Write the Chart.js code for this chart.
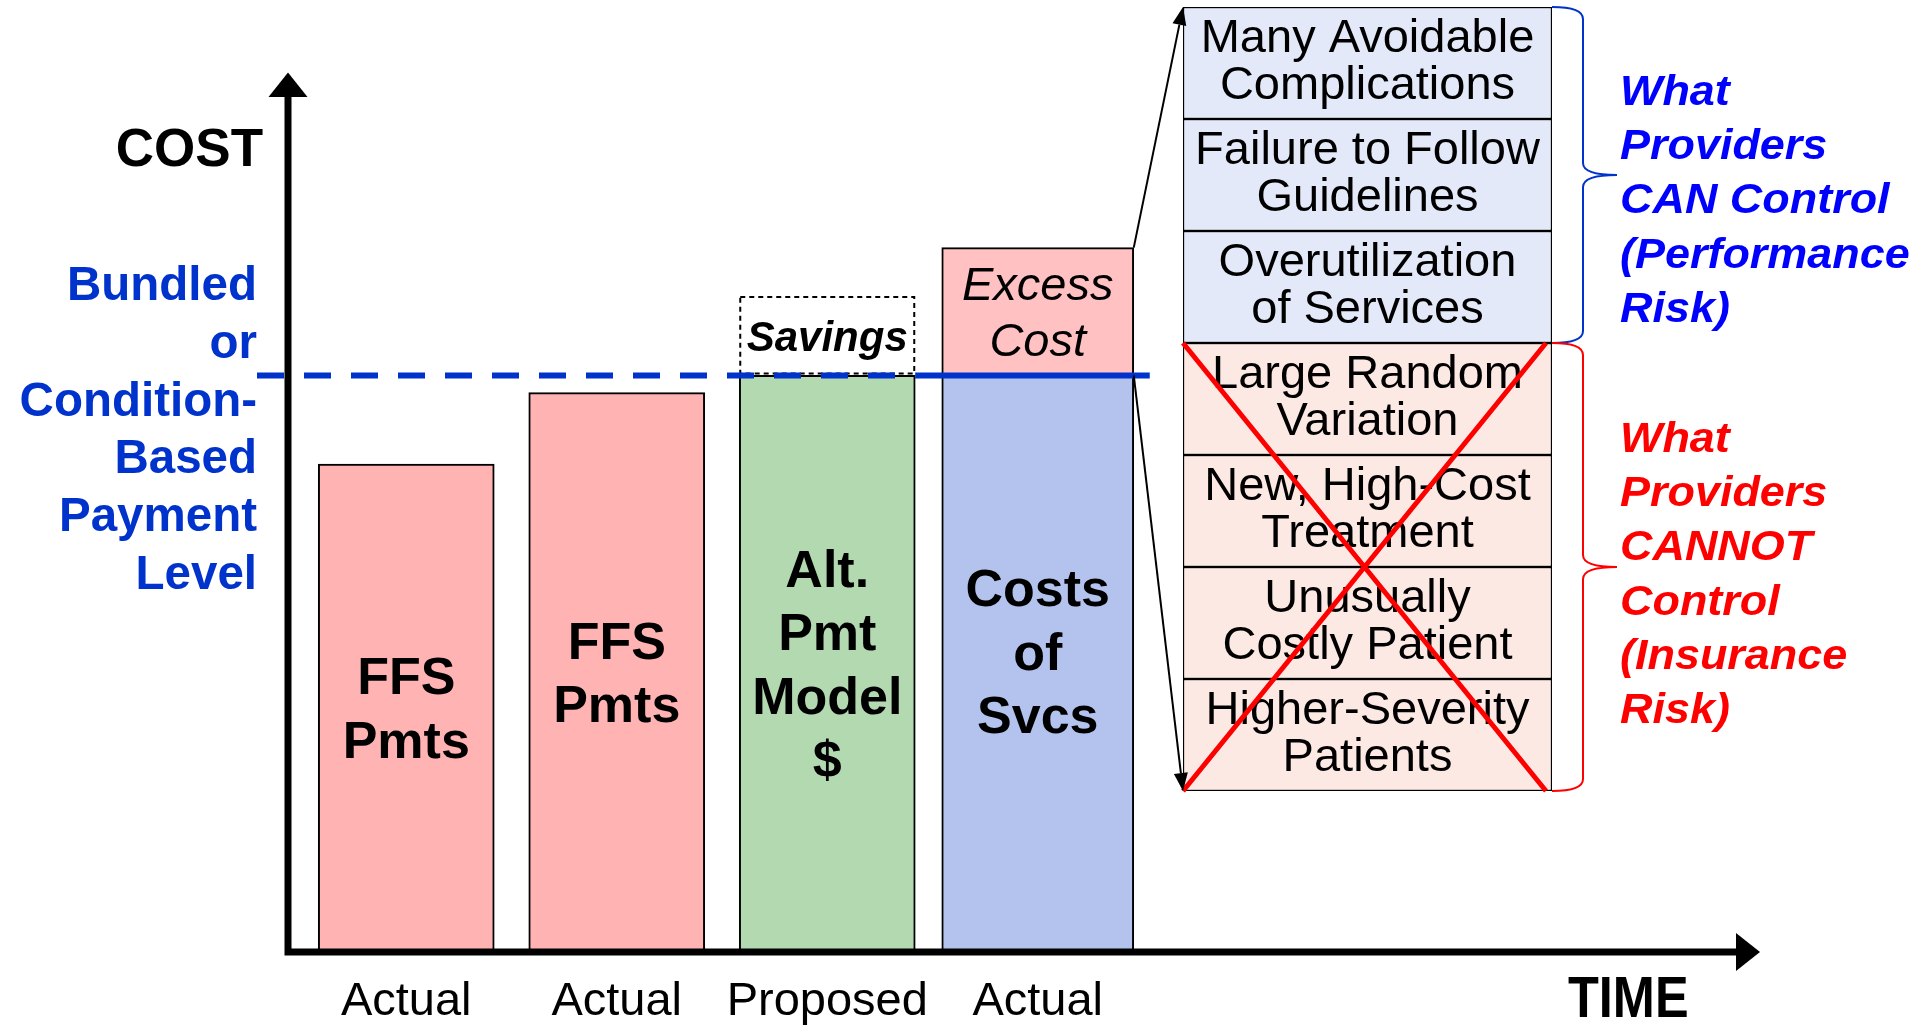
<!DOCTYPE html>
<html>
<head>
<meta charset="utf-8">
<title>Cost vs. payment level</title>
<script src="https://cdn.jsdelivr.net/npm/chart.js@4.4.0/dist/chart.umd.min.js"></script>
<style>
  html, body { margin: 0; padding: 0; background: #fff; overflow: hidden; }
  #wrap { position: relative; width: 1917px; height: 1028px; }
  #wrap canvas { position: absolute; left: 0; top: 0; }
</style>
</head>
<body>
<div id="wrap">
  <canvas id="cost" width="1917" height="1028"></canvas>
  <canvas id="causes" width="1917" height="1028"></canvas>
</div>
<script>
// bars along the time axis
const categories = ['Actual', 'Actual', 'Proposed', 'Actual'];
const paymentLevel = 100;
const paymentValues = [84.6, 97.0, 100, null];
const savingsValues = [null, null, 13.8, null];
const serviceCosts = [null, null, null, 100];
const excessCosts = [null, null, null, 22.2];

const barLabels = [
    ['FFS', 'Pmts'],
    ['FFS', 'Pmts'],
    ['Alt.', 'Pmt', 'Model', '$'],
    ['Costs', 'of', 'Svcs'],
];
const levelLabel = ['Bundled', 'or', 'Condition-', 'Based', 'Payment', 'Level'];

// breakdown of the excess cost
const causeLabels = [
    ['Many Avoidable', 'Complications'],
    ['Failure to Follow', 'Guidelines'],
    ['Overutilization', 'of Services'],
    ['Large Random', 'Variation'],
    ['New, High-Cost', 'Treatment'],
    ['Unusually', 'Costly Patient'],
    ['Higher-Severity', 'Patients'],
];
const causeUnits = [1, 1, 1, 1, 1, 1, 1];
const canControl = ['What', 'Providers', 'CAN Control', '(Performance', 'Risk)'];
const cannotControl = ['What', 'Providers', 'CANNOT', 'Control', '(Insurance', 'Risk)'];
const controllableCount = 3;

const FF = '"Liberation Sans", Arial, Helvetica, sans-serif';
const BLUE = '#0033cc';

function drawText(ctx, str, x, y, font, color, align, sx) {
    ctx.save();
    ctx.translate(x, y);
    ctx.scale(sx || 1, 1);
    ctx.font = font;
    ctx.fillStyle = color;
    ctx.textAlign = align || 'center';
    ctx.textBaseline = 'alphabetic';
    ctx.fillText(str, 0, 0);
    ctx.restore();
}

function arrow(ctx, x1, y1, x2, y2, len, half, width) {
    const a = Math.atan2(y2 - y1, x2 - x1);
    const bx = x2 - Math.cos(a) * len, by = y2 - Math.sin(a) * len;
    ctx.save();
    ctx.strokeStyle = '#000';
    ctx.fillStyle = '#000';
    ctx.lineWidth = width;
    ctx.beginPath();
    ctx.moveTo(x1, y1);
    ctx.lineTo(bx, by);
    ctx.stroke();
    ctx.beginPath();
    ctx.moveTo(x2, y2);
    ctx.lineTo(bx + Math.sin(a) * half, by - Math.cos(a) * half);
    ctx.lineTo(bx - Math.sin(a) * half, by + Math.cos(a) * half);
    ctx.closePath();
    ctx.fill();
    ctx.restore();
}

function brace(ctx, x0, yTop, yBot, yTip, color) {
    const xv = x0 + 31, xt = x0 + 65, r = 12;
    ctx.save();
    ctx.strokeStyle = color;
    ctx.lineWidth = 2;
    ctx.beginPath();
    ctx.moveTo(x0, yTop);
    ctx.quadraticCurveTo(xv, yTop, xv, yTop + r);
    ctx.lineTo(xv, yTip - r);
    ctx.quadraticCurveTo(xv, yTip, xt, yTip);
    ctx.quadraticCurveTo(xv, yTip, xv, yTip + r);
    ctx.lineTo(xv, yBot - r);
    ctx.quadraticCurveTo(xv, yBot, x0, yBot);
    ctx.stroke();
    ctx.restore();
}

function box(el) {
    const p = el.getProps(['x', 'y', 'base', 'width'], true);
    return {
        left: p.x - p.width / 2, right: p.x + p.width / 2,
        top: Math.min(p.y, p.base), bottom: Math.max(p.y, p.base), cx: p.x,
    };
}

/* axes, level line and all captions of the cost chart */
const costDecor = {
    id: 'costDecor',
    afterDatasetsDraw(chart) {
        const ctx = chart.ctx;
        const xs = chart.scales.x, ys = chart.scales.y;
        const area = chart.chartArea;
        const axisX = area.left - 13;
        const axisY = ys.getPixelForValue(0) + 1;
        const levelY = ys.getPixelForValue(paymentLevel);

        // savings: dashed outline on top of the alternative payment bar
        const sv = box(chart.getDatasetMeta(1).data[2]);
        ctx.save();
        ctx.strokeStyle = '#000';
        ctx.lineWidth = 2;
        ctx.setLineDash([5, 4]);
        ctx.strokeRect(sv.left + 1, sv.top + 1, sv.right - sv.left - 2, sv.bottom - sv.top - 3);
        ctx.restore();

        // bar captions
        const bold52 = 'bold 52px ' + FF;
        barLabels.forEach((lines, i) => {
            const ds = i === 3 ? 2 : 0;
            const b = box(chart.getDatasetMeta(ds).data[i]);
            const mid = (b.top + b.bottom) / 2 + (i === 3 ? -12 : 0);
            lines.forEach((t, k) => {
                const y = mid + (k - (lines.length - 1) / 2) * 63.5 + 18.6;
                drawText(ctx, t, b.cx, y, bold52, '#000', 'center');
            });
        });
        drawText(ctx, 'Savings', sv.cx, (sv.top + sv.bottom) / 2 + 15, 'italic bold 42px ' + FF, '#000', 'center');
        const ex = box(chart.getDatasetMeta(3).data[3]);
        const exMid = (ex.top + ex.bottom) / 2;
        drawText(ctx, 'Excess', ex.cx, exMid - 28 + 16.8, 'italic 47px ' + FF, '#000', 'center');
        drawText(ctx, 'Cost', ex.cx, exMid + 28 + 16.8, 'italic 47px ' + FF, '#000', 'center');

        // payment level: dashed up to the proposed bar, solid across the actual costs
        const alt = box(chart.getDatasetMeta(0).data[2]);
        ctx.save();
        ctx.strokeStyle = BLUE;
        ctx.lineWidth = 6;
        ctx.setLineDash([27, 20]);
        ctx.beginPath();
        ctx.moveTo(axisX - 31, levelY);
        ctx.lineTo(alt.right, levelY);
        ctx.stroke();
        ctx.setLineDash([]);
        ctx.beginPath();
        ctx.moveTo(alt.right, levelY);
        ctx.lineTo(ex.right + 16, levelY);
        ctx.stroke();
        ctx.restore();

        // cost and time axes
        ctx.save();
        ctx.strokeStyle = '#000';
        ctx.fillStyle = '#000';
        ctx.lineWidth = 7;
        ctx.beginPath();
        ctx.moveTo(axisX, axisY + 3.5);
        ctx.lineTo(axisX, 96);
        ctx.moveTo(axisX - 3.5, axisY);
        ctx.lineTo(1737, axisY);
        ctx.stroke();
        ctx.beginPath();
        ctx.moveTo(axisX, 72.5);
        ctx.lineTo(axisX - 19.5, 97);
        ctx.lineTo(axisX + 19.5, 97);
        ctx.closePath();
        ctx.fill();
        ctx.beginPath();
        ctx.moveTo(1760, axisY);
        ctx.lineTo(1736, axisY - 19);
        ctx.lineTo(1736, axisY + 19);
        ctx.closePath();
        ctx.fill();
        ctx.restore();

        drawText(ctx, 'COST', axisX - 25, 166, 'bold 53px ' + FF, '#000', 'right');
        levelLabel.forEach((t, k) => {
            drawText(ctx, t, axisX - 31, 300 + k * 57.8, 'bold 47.5px ' + FF, BLUE, 'right');
        });
        categories.forEach((t, i) => {
            drawText(ctx, t, xs.getPixelForValue(i), 1015, '47px ' + FF, '#000', 'center');
        });
        drawText(ctx, 'TIME', 1568, 1017, 'bold 58px ' + FF, '#000', 'left', 0.87);
    },
};

const costChart = new Chart(document.getElementById('cost'), {
    type: 'bar',
    data: {
        labels: categories,
        datasets: [
            {
                label: 'Payments',
                data: paymentValues,
                backgroundColor: ['#ffb3b3', '#ffb3b3', '#b3d9b1', '#b3c3ee'],
                borderColor: '#000',
                borderWidth: 2,
                borderSkipped: false,
                barThickness: 176,
            },
            {
                label: 'Savings',
                data: savingsValues,
                backgroundColor: '#ffffff',
                borderWidth: 0,
                barThickness: 176,
            },
            {
                label: 'Costs of Svcs',
                data: serviceCosts,
                backgroundColor: '#b3c3ee',
                borderColor: '#000',
                borderWidth: 2,
                borderSkipped: false,
                barThickness: 192,
            },
            {
                label: 'Excess Cost',
                data: excessCosts,
                backgroundColor: '#ffc1c1',
                borderColor: '#000',
                borderWidth: 2,
                borderSkipped: false,
                barThickness: 192,
            },
        ],
    },
    options: {
        responsive: false,
        animation: false,
        layout: { padding: { left: 301, right: 774, top: 30, bottom: 77 } },
        plugins: { legend: { display: false }, tooltip: { enabled: false } },
        scales: {
            x: { display: false, stacked: true },
            y: { display: false, stacked: true, min: 0, max: 160 },
        },
    },
    plugins: [costDecor],
});

/* the stacked box of excess-cost causes, with braces and the arrows back to the excess bar */
const causeDecor = {
    id: 'causeDecor',
    afterDatasetsDraw(chart) {
        const ctx = chart.ctx;
        const rows = causeLabels.map((_, i) => box(chart.getDatasetMeta(i).data[0]));
        const first = rows[0], last = rows[rows.length - 1];
        const split = rows[controllableCount].top;
        const font = '47px ' + FF;

        rows.forEach((r, i) => {
            const mid = (r.top + r.bottom) / 2;
            drawText(ctx, causeLabels[i][0], r.cx, mid - 11, font, '#000', 'center');
            drawText(ctx, causeLabels[i][1], r.cx, mid + 36, font, '#000', 'center');
        });

        // uncontrollable causes crossed out
        ctx.save();
        ctx.strokeStyle = '#ff0000';
        ctx.lineWidth = 5;
        ctx.beginPath();
        ctx.moveTo(first.left, split);
        ctx.lineTo(first.right - 6, last.bottom);
        ctx.moveTo(first.right - 6, split);
        ctx.lineTo(first.left, last.bottom);
        ctx.stroke();
        ctx.restore();

        brace(ctx, first.right, first.top, split, (first.top + split) / 2, BLUE);
        brace(ctx, first.right, split, last.bottom, (split + last.bottom) / 2, '#ff0000');

        const gfont = 'italic bold 42px ' + FF;
        canControl.forEach((t, k) => {
            drawText(ctx, t, first.right + 68, first.top + 98 + k * 54.2, gfont, '#0000ff', 'left', 1.07);
        });
        cannotControl.forEach((t, k) => {
            drawText(ctx, t, first.right + 68, split + 109 + k * 54.2, gfont, '#ff0000', 'left', 1.07);
        });

        const ex = box(costChart.getDatasetMeta(3).data[3]);
        arrow(ctx, ex.right, ex.top, first.left, first.top, 18, 7, 2);
        arrow(ctx, ex.right, ex.bottom, first.left, last.bottom, 18, 7, 2);
    },
};

new Chart(document.getElementById('causes'), {
    type: 'bar',
    data: {
        labels: ['Excess Cost'],
        datasets: causeLabels.map((lines, i) => ({
            label: lines.join(' '),
            data: [causeUnits[i]],
            backgroundColor: i < controllableCount ? '#e3e9f8' : '#fde9e3',
            borderColor: '#000',
            borderWidth: 1.5,
            borderSkipped: false,
            barPercentage: 1,
            categoryPercentage: 1,
        })),
    },
    options: {
        responsive: false,
        animation: false,
        layout: { padding: { left: 1183, right: 365, top: 7, bottom: 237 } },
        plugins: { legend: { display: false }, tooltip: { enabled: false } },
        scales: {
            x: { display: false, stacked: true },
            y: { display: false, stacked: true, reverse: true, min: 0, max: 7 },
        },
    },
    plugins: [causeDecor],
});
</script>
</body>
</html>
